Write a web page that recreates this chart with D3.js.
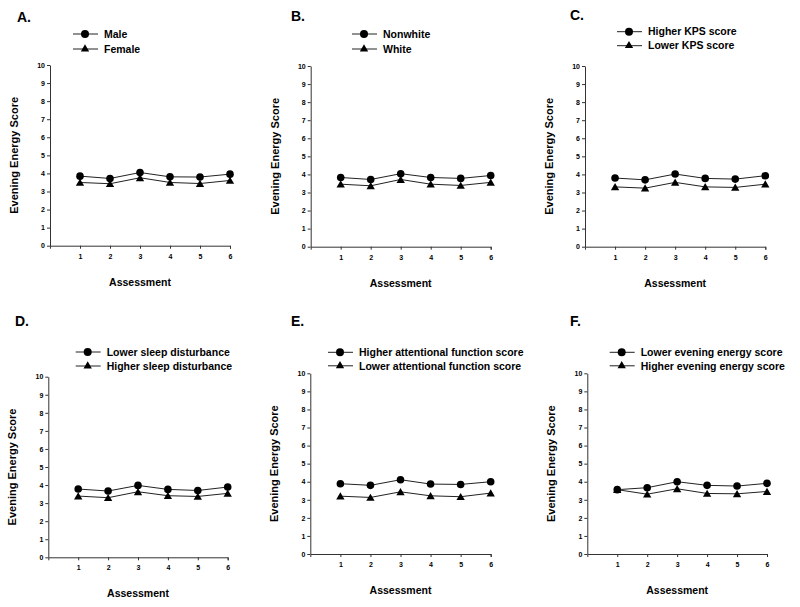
<!DOCTYPE html>
<html><head><meta charset="utf-8">
<script src="https://cdn.jsdelivr.net/npm/d3@7"></script>
<style>
body{margin:0;background:#fff;}
text{font-family:"Liberation Sans",Arial,sans-serif;font-weight:bold;fill:#000;}
</style></head>
<body>
<svg id="chart" width="800" height="607"></svg>
<script>
// ---- data ----
const assessments = [1, 2, 3, 4, 5, 6];
const yTickValues = [0, 1, 2, 3, 4, 5, 6, 7, 8, 9, 10];
const panelLetters = ["A.", "B.", "C.", "D.", "E.", "F."];
const circleLabels = ["Male", "Nonwhite", "Higher KPS score", "Lower sleep disturbance", "Higher attentional function score", "Lower evening energy score"];
const triangleLabels = ["Female", "White", "Lower KPS score", "Higher sleep disturbance", "Lower attentional function score", "Higher evening energy score"];
const maleScores      = [3.85, 3.72, 4.05, 3.81, 3.80, 3.96];
const femaleScores    = [3.50, 3.43, 3.76, 3.50, 3.44, 3.61];
const nonwhiteScores  = [3.83, 3.72, 4.04, 3.83, 3.78, 3.94];
const whiteScores     = [3.46, 3.37, 3.72, 3.46, 3.39, 3.56];
const higherKPS       = [3.80, 3.70, 4.02, 3.78, 3.74, 3.93];
const lowerKPS        = [3.31, 3.24, 3.56, 3.31, 3.28, 3.46];
const lowerSleep      = [3.78, 3.67, 3.98, 3.76, 3.70, 3.89];
const higherSleep     = [3.39, 3.30, 3.63, 3.41, 3.37, 3.54];
const higherAttention = [3.89, 3.80, 4.11, 3.87, 3.85, 4.00];
const lowerAttention  = [3.20, 3.13, 3.44, 3.22, 3.17, 3.37];
const lowerEvening    = [3.56, 3.67, 4.00, 3.80, 3.76, 3.91];
const higherEvening   = [3.56, 3.31, 3.61, 3.35, 3.33, 3.46];

const circleSeries = [maleScores, nonwhiteScores, higherKPS, lowerSleep, higherAttention, lowerEvening];
const triangleSeries = [femaleScores, whiteScores, lowerKPS, higherSleep, lowerAttention, higherEvening];

// ---- layout ----
const layouts = [
  {ax: 50,    y10: 65,    y0: 245.7, x6: 230,   tx: 17,  ty: 22,  lx: 85,    ly: 34,    dy: 15},
  {ax: 310.7, y10: 66,    y0: 246.7, x6: 490.7, tx: 291, ty: 21,  lx: 364,   ly: 34,    dy: 15},
  {ax: 585,   y10: 66,    y0: 246.7, x6: 765.3, tx: 570, ty: 20,  lx: 629,   ly: 31.7,  dy: 14},
  {ax: 48.3,  y10: 376.7, y0: 557.3, x6: 227.7, tx: 15,  ty: 326, lx: 87.7,  ly: 352,   dy: 14},
  {ax: 310.3, y10: 373.3, y0: 554,   x6: 490.7, tx: 291, ty: 326, lx: 340,   ly: 352.3, dy: 13.5},
  {ax: 587.3, y10: 373.3, y0: 554,   x6: 767,   tx: 570, ty: 326, lx: 621.7, ly: 352.3, dy: 13.5}
];

const svg = d3.select("#chart");
const tri = d3.symbol().type(d3.symbolTriangle).size(30);

layouts.forEach((L, i) => {
  const g = svg.append("g");
  const x = d3.scaleLinear().domain([0, 6]).range([L.ax, L.x6]);
  const y = d3.scaleLinear().domain([0, 10]).range([L.y0, L.y10]);

  // panel letter
  g.append("text").attr("x", L.tx).attr("y", L.ty).attr("font-size", 14).text(panelLetters[i]);

  // axes
  const yAxis = d3.axisLeft(y).tickValues(yTickValues).tickFormat(d3.format("d")).tickSize(3).tickSizeOuter(0).tickPadding(2);
  const ya = g.append("g").attr("transform", `translate(${L.ax},0)`).call(yAxis);
  const xAxis = d3.axisBottom(x).tickValues(assessments).tickFormat(d3.format("d")).tickSize(3).tickSizeOuter(3).tickPadding(5);
  const xa = g.append("g").attr("transform", `translate(0,${L.y0})`).call(xAxis);
  [ya, xa].forEach(a => {
    a.selectAll("path, line").attr("stroke", "#333").attr("stroke-width", 1);
    a.selectAll("text").attr("font-size", 7).attr("font-family", "Liberation Sans, Arial, sans-serif").attr("font-weight", "bold").attr("fill", "#000");
  });

  // axis titles
  g.append("text").attr("x", (L.ax + L.x6) / 2).attr("y", L.y0 + 40)
    .attr("text-anchor", "middle").attr("font-size", 10.5).text("Assessment");
  g.append("text")
    .attr("transform", `translate(${L.ax - 32},${(L.y0 + L.y10) / 2}) rotate(-90)`)
    .attr("text-anchor", "middle").attr("font-size", 11).text("Evening Energy Score");

  const line = d3.line().x((d, j) => x(assessments[j])).y(d => y(d));

  // triangle series
  g.append("path").datum(triangleSeries[i]).attr("d", line)
    .attr("fill", "none").attr("stroke", "#222").attr("stroke-width", 1);
  g.selectAll(".tri").data(triangleSeries[i]).enter().append("path")
    .attr("d", tri).attr("transform", (d, j) => `translate(${x(assessments[j])},${y(d) + 1})`).attr("fill", "#000");

  // circle series
  g.append("path").datum(circleSeries[i]).attr("d", line)
    .attr("fill", "none").attr("stroke", "#222").attr("stroke-width", 1);
  g.selectAll(".circ").data(circleSeries[i]).enter().append("circle")
    .attr("cx", (d, j) => x(assessments[j])).attr("cy", d => y(d)).attr("r", 3.8).attr("fill", "#000");

  // legend
  const lg = g.append("g");
  [0, 1].forEach(k => {
    const yy = L.ly + k * L.dy;
    lg.append("line").attr("x1", L.lx - 12).attr("x2", L.lx + 13).attr("y1", yy).attr("y2", yy)
      .attr("stroke", "#222").attr("stroke-width", 1);
    if (k === 0) lg.append("circle").attr("cx", L.lx).attr("cy", yy).attr("r", 4).attr("fill", "#000");
    else lg.append("path").attr("d", tri).attr("transform", `translate(${L.lx},${yy})`).attr("fill", "#000");
    lg.append("text").attr("x", L.lx + 19).attr("y", yy + 3.7).attr("font-size", 10.5)
      .text(k === 0 ? circleLabels[i] : triangleLabels[i]);
  });
});
</script>
</body></html>
